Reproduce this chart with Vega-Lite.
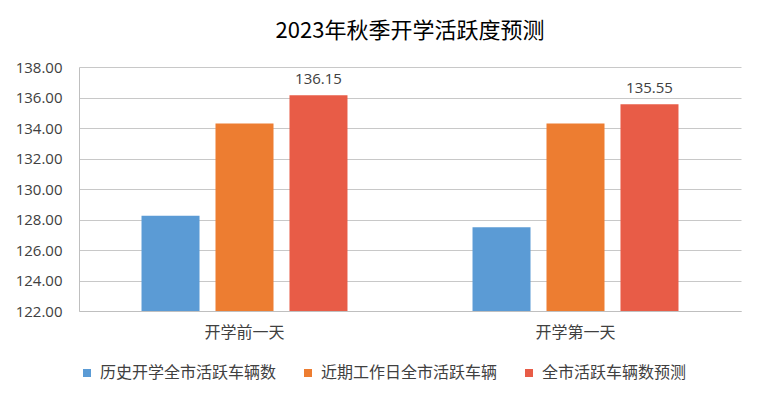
{
  "$schema": "https://vega.github.io/schema/vega-lite/v6.json",
  "width": 662,
  "height": 244,
  "padding": {"left": 15, "top": 20, "right": 20, "bottom": 10},
  "background": "white",
  "title": {
    "text": "2023年秋季开学活跃度预测",
    "font": "Noto Sans CJK SC",
    "fontSize": 22,
    "fontWeight": "normal",
    "color": "#000000",
    "anchor": "middle",
    "offset": 17
  },
  "config": {
    "view": {"stroke": null},
    "font": "Open Sans, Noto Sans CJK SC"
  },
  "data": {
    "values": [
      {"cat": "开学前一天", "series": "历史开学全市活跃车辆数", "value": 128.25},
      {"cat": "开学前一天", "series": "近期工作日全市活跃车辆", "value": 134.3},
      {"cat": "开学前一天", "series": "全市活跃车辆数预测", "value": 136.15},
      {"cat": "开学第一天", "series": "历史开学全市活跃车辆数", "value": 127.5},
      {"cat": "开学第一天", "series": "近期工作日全市活跃车辆", "value": 134.3},
      {"cat": "开学第一天", "series": "全市活跃车辆数预测", "value": 135.55}
    ]
  },
  "encoding": {
    "x": {
      "field": "cat",
      "type": "nominal",
      "sort": null,
      "scale": {"paddingInner": 0, "paddingOuter": 0},
      "axis": {
        "title": null,
        "labelAngle": 0,
        "labelFont": "Noto Sans CJK SC",
        "labelFontSize": 16,
        "labelColor": "#404040",
        "labelPadding": 13,
        "ticks": false,
        "domainColor": "#bfbfbf",
        "domainWidth": 1
      }
    },
    "xOffset": {
      "field": "series",
      "type": "nominal",
      "sort": ["历史开学全市活跃车辆数", "近期工作日全市活跃车辆", "全市活跃车辆数预测"],
      "scale": {"paddingInner": 0.216, "paddingOuter": 0.845}
    },
    "y": {
      "field": "value",
      "type": "quantitative",
      "stack": null,
      "scale": {"domain": [122, 138], "zero": false, "nice": false},
      "axis": {
        "title": null,
        "values": [122, 124, 126, 128, 130, 132, 134, 136, 138],
        "format": ".2f",
        "labelFont": "Open Sans",
        "labelFontSize": 15,
        "labelColor": "#404040",
        "labelPadding": 17,
        "ticks": false,
        "tickSize": 0,
        "domainColor": "#bfbfbf",
        "gridColor": "#c8c8c8",
        "gridWidth": 1
      }
    }
  },
  "layer": [
    {
      "mark": {"type": "bar"},
      "encoding": {
        "color": {
          "field": "series",
          "type": "nominal",
          "sort": ["历史开学全市活跃车辆数", "近期工作日全市活跃车辆", "全市活跃车辆数预测"],
          "scale": {
            "domain": ["历史开学全市活跃车辆数", "近期工作日全市活跃车辆", "全市活跃车辆数预测"],
            "range": ["#5b9bd5", "#ed7d31", "#e85c47"]
          },
          "legend": {
            "title": null,
            "orient": "bottom",
            "direction": "horizontal",
            "columns": 3,
            "symbolType": "square",
            "symbolSize": 64,
            "symbolStrokeWidth": 0,
            "labelFont": "Noto Sans CJK SC",
            "labelFontSize": 16,
            "labelColor": "#404040",
            "labelLimit": 400,
            "labelOffset": 5,
            "columnPadding": 23,
            "offset": 25
          }
        }
      }
    },
    {
      "transform": [{"filter": "datum.series === '全市活跃车辆数预测'"}],
      "mark": {
        "type": "text",
        "baseline": "bottom",
        "dy": -8,
        "font": "Open Sans",
        "fontSize": 15,
        "color": "#404040"
      },
      "encoding": {
        "text": {"field": "value", "type": "quantitative", "format": ".2f"}
      }
    }
  ]
}
